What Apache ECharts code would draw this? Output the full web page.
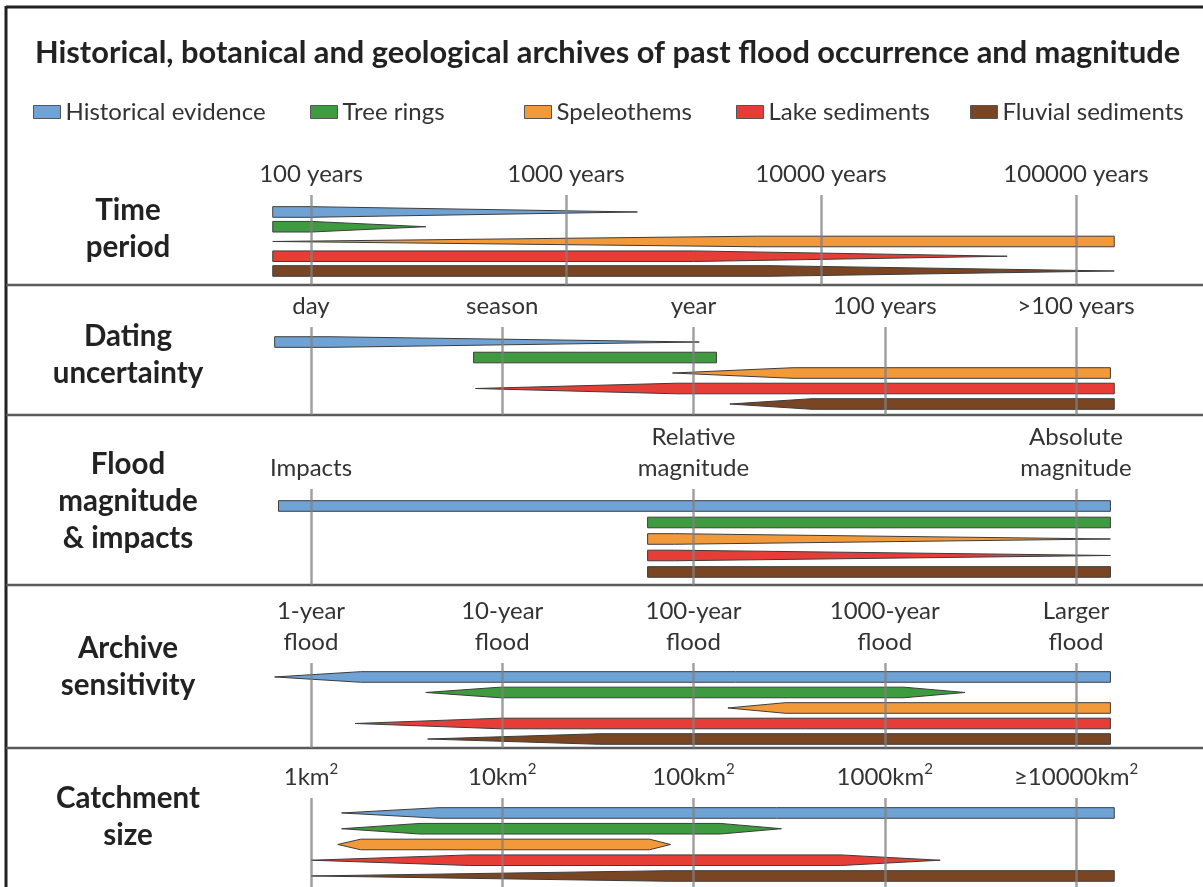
<!DOCTYPE html>
<html>
<head>
<meta charset="utf-8">
<script src="https://cdn.jsdelivr.net/npm/echarts@6/dist/echarts.min.js"></script>
<style>
  html, body { margin: 0; padding: 0; background: #fff; }
  #chart { width: 1203px; height: 887px; }
</style>
</head>
<body>
<div id="chart"></div>
<script>
const archives = ['Historical evidence', 'Tree rings', 'Speleothems', 'Lake sediments', 'Fluvial sediments'];
const archiveColors = ['#6fa3d6', '#3f9b3f', '#f29a3a', '#e63d36', '#7a4522'];

// each bar: [start, fullStart, fullEnd, end, startThickness, endThickness] in axis units
const timePeriodTicks = ['100 years', '1000 years', '10000 years', '100000 years'];
const timePeriodBars = [
  [1.85, 1.85, 2.0, 3.28, 1, 0],
  [1.85, 1.85, 2.0, 2.45, 1, 0],
  [1.85, 3.75, 5.15, 5.15, 0, 1],
  [1.85, 1.85, 3.5, 4.73, 1, 0],
  [1.85, 1.85, 3.8, 5.15, 1, 0]
];

const datingTicks = ['day', 'season', 'year', '100 years', '>100 years'];
const datingBars = [
  [-0.19, -0.19, 0.1, 2.03, 1, 0],
  [0.85, 0.85, 2.12, 2.12, 1, 1],
  [1.89, 2.52, 4.18, 4.18, 0, 1],
  [0.86, 1.91, 4.2, 4.2, 0, 1],
  [2.19, 2.62, 4.2, 4.2, 0, 1]
];

const magnitudeTicks = ['Impacts', 'Relative\nmagnitude', 'Absolute\nmagnitude'];
const magnitudeBars = [
  [-0.17, -0.17, 4.18, 4.18, 1, 1],
  [1.76, 1.76, 4.18, 4.18, 1, 1],
  [1.76, 1.76, 1.9, 4.18, 1, 0],
  [1.76, 1.76, 1.9, 4.18, 1, 0],
  [1.76, 1.76, 4.18, 4.18, 1, 1]
];

const sensitivityTicks = ['1-year\nflood', '10-year\nflood', '100-year\nflood', '1000-year\nflood', 'Larger\nflood'];
const sensitivityBars = [
  [-0.19, 0.26, 4.18, 4.18, 0, 1],
  [0.6, 0.99, 3.1, 3.42, 0, 0],
  [2.18, 2.48, 4.18, 4.18, 0, 1],
  [0.23, 0.99, 4.18, 4.18, 0, 1],
  [0.61, 1.51, 4.18, 4.18, 0, 1]
];

const catchmentTicks = ['1km{s|2}', '10km{s|2}', '100km{s|2}', '1000km{s|2}', '≥10000km{s|2}'];
const catchmentBars = [
  [0.16, 0.67, 4.2, 4.2, 0, 1],
  [0.16, 0.57, 2.14, 2.46, 0, 0],
  [0.14, 0.26, 1.77, 1.88, 0, 0],
  [0.0, 0.83, 2.77, 3.29, 0, 0],
  [0.0, 1.87, 4.2, 4.2, 0, 1]
];

const panels = [
  { label: 'Time\nperiod', ticks: timePeriodTicks, bars: timePeriodBars, min: 2, max: 5, step: 1,
    top: 195, bottom: 285, yMin: -1.15, yMax: 4.95, labelY: 229 },
  { label: 'Dating\nuncertainty', ticks: datingTicks, bars: datingBars, min: 0, max: 4, step: 1,
    top: 327, bottom: 415, yMin: -0.97, yMax: 4.71, labelY: 355 },
  { label: 'Flood\nmagnitude\n& impacts', ticks: magnitudeTicks, bars: magnitudeBars, min: 0, max: 4, step: 2,
    top: 489, bottom: 585, yMin: -1.03, yMax: 4.79, labelY: 501 },
  { label: 'Archive\nsensitivity', ticks: sensitivityTicks, bars: sensitivityBars, min: 0, max: 4, step: 1,
    top: 663, bottom: 748, yMin: -0.9, yMax: 4.58, labelY: 667 },
  { label: 'Catchment\nsize', ticks: catchmentTicks, bars: catchmentBars, min: 0, max: 4, step: 1,
    top: 798, bottom: 887, yMin: -0.95, yMax: 4.7, labelY: 817 }
];

const W = 1203, H = 887;
const FONT = 'Lato';
const legendLeft = [33, 310, 524, 736, 970];
const separators = [285, 415, 585, 748];

function renderBar(params, api) {
  const row = api.value(0);
  const p0 = api.coord([api.value(1), row]);
  const x1 = api.coord([api.value(2), row])[0];
  const x2 = api.coord([api.value(3), row])[0];
  const x3 = api.coord([api.value(4), row])[0];
  const t0 = api.value(5), t3 = api.value(6);
  const y = p0[1], h = 5.3;
  const pts = [
    [p0[0], y - h * t0], [x1, y - h], [x2, y - h], [x3, y - h * t3],
    [x3, y + h * t3], [x2, y + h], [x1, y + h], [p0[0], y + h * t0]
  ];
  return {
    type: 'polygon',
    shape: { points: pts },
    style: { fill: api.visual('color'), stroke: '#3c3c3c', lineWidth: 1 }
  };
}

const chart = echarts.init(document.getElementById('chart'), null, { renderer: 'canvas' });

const series = [];
panels.forEach((p, pi) => {
  p.bars.forEach((b, ai) => {
    series.push({
      type: 'custom',
      name: archives[ai],
      xAxisIndex: pi,
      yAxisIndex: pi,
      z: 2,
      itemStyle: { color: archiveColors[ai], borderColor: '#555', borderWidth: 1 },
      encode: { x: [1, 2, 3, 4], y: 0 },
      renderItem: renderBar,
      data: [[ai].concat(b)]
    });
  });
});

const graphics = [
  { type: 'line', shape: { x1: 6, y1: 7, x2: W, y2: 7 }, style: { stroke: '#222', lineWidth: 3 } },
  { type: 'line', shape: { x1: 6, y1: 6, x2: 6, y2: H }, style: { stroke: '#222', lineWidth: 3 } }
];
separators.forEach(y => {
  graphics.push({ type: 'line', shape: { x1: 6, y1: y, x2: W, y2: y }, style: { stroke: '#5a5a5a', lineWidth: 2.5 } });
});
panels.forEach(p => {
  graphics.push({
    type: 'text', x: 128, y: p.labelY,
    style: { text: p.label, align: 'center', verticalAlign: 'middle', font: 'bold 29.5px ' + FONT, lineHeight: 37, fill: '#222' }
  });
});

chart.setOption({
  backgroundColor: '#fff',
  animation: false,
  title: {
    text: 'Historical, botanical and geological archives of past flood occurrence and magnitude',
    left: 35, top: 38, padding: 0,
    textStyle: { fontFamily: FONT, fontSize: 30.8, fontWeight: 'bold', color: '#222' }
  },
  legend: archives.map((name, i) => ({
    data: [name],
    left: legendLeft[i], top: 100, padding: 0,
    icon: 'rect', itemWidth: 27, itemHeight: 13,
    itemStyle: { borderColor: '#555', borderWidth: 1 },
    textStyle: { fontFamily: FONT, fontSize: 24, color: '#333' }
  })),
  grid: panels.map(p => ({ left: 311, right: W - 1076, top: p.top, bottom: H - p.bottom })),
  xAxis: panels.map((p, i) => ({
    type: 'value', gridIndex: i, position: 'top',
    min: p.min, max: p.max, interval: p.step, z: 3,
    axisLine: { show: false }, axisTick: { show: false },
    axisLabel: {
      showMinLabel: true, showMaxLabel: true, margin: 5,
      fontFamily: FONT, fontSize: 24, color: '#333', lineHeight: 31,
      formatter: v => p.ticks[Math.round((v - p.min) / p.step)] || '',
      rich: { s: { fontFamily: FONT, fontSize: 15, color: '#333', verticalAlign: 'top', lineHeight: 31, padding: [0, 0, 12, 0] } }
    },
    splitLine: { show: true, lineStyle: { color: 'rgba(128,128,128,0.75)', width: 2.5 } }
  })),
  yAxis: panels.map((p, i) => ({
    type: 'value', gridIndex: i, inverse: true, min: p.yMin, max: p.yMax, show: false
  })),
  graphic: graphics,
  series: series
});
</script>
</body>
</html>
